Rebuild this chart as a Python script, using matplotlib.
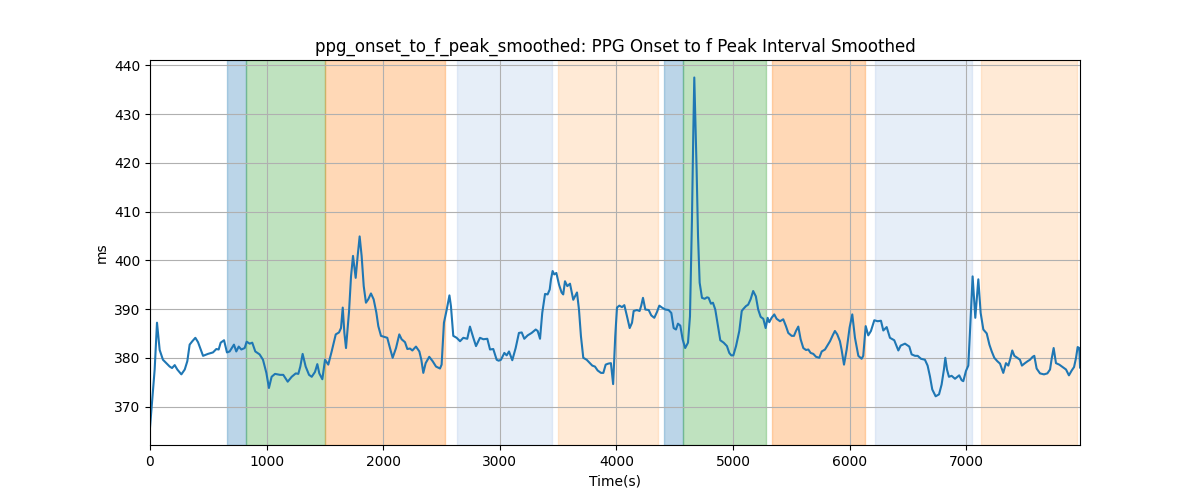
import numpy as np
import matplotlib
matplotlib.use("Agg")
import matplotlib.pyplot as plt

# waktu (s) dan nilai interval (ms)
time_s = [0, 40, 60, 83, 111, 140, 169, 189, 212, 234, 269, 298, 320, 340, 363, 389, 412, 435, 455,
          497, 540, 569, 589, 606, 635, 660, 683, 720, 740, 761, 783, 812, 829, 855, 877, 903, 940,
          969, 998, 1020, 1043, 1072, 1115, 1143, 1181, 1215, 1250, 1272, 1289, 1309, 1335, 1364,
          1387, 1415, 1435, 1452, 1478, 1501, 1529, 1558, 1593, 1621, 1638, 1653, 1667, 1681, 1707,
          1724, 1741, 1764, 1781, 1798, 1815, 1833, 1852, 1872, 1895, 1918, 1941, 1958, 1981, 2009,
          2035, 2058, 2081, 2110, 2138, 2158, 2187, 2207, 2230, 2250, 2281, 2310, 2327, 2344, 2364,
          2395, 2424, 2453, 2487, 2501, 2521, 2545, 2568, 2581, 2601, 2630, 2659, 2687, 2721, 2744,
          2773, 2796, 2830, 2859, 2893, 2916, 2944, 2973, 2990, 3010, 3039, 3059, 3079, 3107, 3136,
          3164, 3188, 3210, 3239, 3273, 3308, 3325, 3345, 3364, 3388, 3410, 3428, 3439, 3453, 3467,
          3485, 3508, 3530, 3544, 3559, 3579, 3602, 3630, 3645, 3662, 3679, 3696, 3716, 3745, 3773,
          3793, 3816, 3839, 3868, 3888, 3908, 3930, 3953, 3972, 3990, 4005, 4025, 4048, 4068, 4091,
          4114, 4134, 4148, 4176, 4199, 4213, 4228, 4248, 4277, 4299, 4325, 4348, 4368, 4391, 4420,
          4448, 4471, 4491, 4511, 4528, 4548, 4568, 4590, 4614, 4631, 4648, 4659, 4668, 4677, 4688,
          4700, 4714, 4734, 4757, 4777, 4791, 4811, 4828, 4848, 4871, 4891, 4920, 4948, 4968, 4985,
          5003, 5026, 5054, 5075, 5088, 5111, 5130, 5151, 5173, 5196, 5216, 5237, 5260, 5280, 5297,
          5311, 5331, 5354, 5374, 5403, 5431, 5454, 5474, 5503, 5523, 5540, 5560, 5580, 5603, 5626,
          5646, 5666, 5689, 5712, 5740, 5761, 5789, 5809, 5832, 5855, 5874, 5894, 5917, 5931, 5952,
          5975, 6000, 6023, 6046, 6075, 6103, 6117, 6138, 6160, 6183, 6212, 6241, 6269, 6289, 6318,
          6346, 6383, 6418, 6438, 6475, 6512, 6532, 6561, 6584, 6612, 6646, 6669, 6689, 6709, 6738,
          6767, 6789, 6809, 6821, 6835, 6852, 6875, 6904, 6940, 6961, 6975, 6998, 7018, 7032, 7055,
          7078, 7104, 7124, 7147, 7176, 7199, 7219, 7241, 7267, 7290, 7318, 7341, 7361, 7376, 7395,
          7413, 7438, 7461, 7478, 7504, 7527, 7547, 7570, 7584, 7604, 7633, 7667, 7696, 7719, 7733,
          7750, 7770, 7798, 7827, 7856, 7881, 7905, 7925, 7942, 7956, 7970, 7976]
interval_ms = [365.7, 377.6, 387.2, 381.6, 379.6, 378.9, 378.2, 377.9, 378.5, 377.6, 376.6, 377.6,
               379.3, 382.7, 383.4, 384.1, 383.2, 381.7, 380.4, 380.8, 381.1, 381.8, 381.7, 383.1,
               383.6, 381.1, 381.3, 382.7, 381.3, 382.3, 381.7, 382.0, 383.3, 382.9, 383.1, 381.3,
               380.7, 379.6, 376.9, 373.8, 376.1, 376.7, 376.5, 376.5, 375.1, 376.1, 376.8, 376.7,
               378.2, 380.8, 378.2, 376.5, 376.1, 377.1, 378.7, 376.8, 375.6, 379.6, 378.6, 381.3,
               384.8, 385.2, 386.1, 390.3, 385.1, 382.0, 389.5, 396.7, 400.9, 396.4, 400.9, 404.9,
               400.9, 394.7, 391.3, 392.0, 393.2, 392.0, 389.3, 386.5, 384.5, 384.3, 384.1, 382.0,
               380.0, 382.0, 384.8, 383.8, 383.2, 381.8, 381.9, 381.5, 382.3, 381.3, 379.6, 376.9,
               378.9, 380.2, 379.3, 378.2, 377.8, 378.6, 387.2, 389.9, 392.8, 390.6, 384.5, 384.1,
               383.4, 384.1, 383.9, 386.4, 384.1, 382.4, 384.1, 383.8, 383.9, 381.7, 381.8, 379.6,
               379.4, 379.6, 381.0, 380.5, 381.3, 379.5, 382.0, 385.1, 385.2, 383.9, 384.6, 385.1,
               385.8, 385.5, 383.9, 389.2, 393.1, 393.0, 394.0, 396.1, 397.8, 397.1, 397.4, 395.0,
               393.4, 393.0, 395.7, 394.7, 395.2, 391.9, 392.6, 393.4, 389.9, 384.4, 380.0, 379.6,
               378.9, 378.4, 378.2, 377.4, 376.9, 376.9, 378.6, 378.8, 378.9, 374.6, 384.4, 390.3,
               390.7, 390.4, 390.8, 388.5, 386.1, 387.2, 389.6, 389.8, 389.6, 390.7, 392.3, 389.9,
               389.8, 388.7, 388.2, 389.4, 390.7, 390.3, 389.9, 389.8, 389.2, 386.1, 385.8, 387.0,
               386.6, 383.8, 382.0, 383.1, 388.5, 408.4, 425.5, 437.5, 428.9, 418.6, 405.0, 395.4,
               392.3, 392.1, 392.4, 392.3, 391.1, 391.3, 389.9, 386.5, 383.6, 383.1, 382.4, 381.0,
               380.5, 380.5, 382.4, 385.5, 389.6, 390.0, 390.6, 390.9, 392.0, 393.7, 392.6, 389.9,
               388.4, 388.0, 386.1, 388.2, 387.3, 388.2, 388.9, 388.0, 387.5, 387.9, 386.5, 385.1,
               384.5, 384.5, 385.5, 386.4, 383.8, 382.0, 381.6, 381.7, 381.0, 380.8, 380.2, 380.0,
               381.3, 381.7, 382.5, 383.4, 384.6, 385.5, 384.8, 383.4, 381.7, 378.6, 381.7, 386.2,
               388.9, 384.1, 380.4, 379.8, 380.4, 386.5, 384.6, 385.5, 387.7, 387.5, 387.6, 385.6,
               386.3, 384.1, 383.6, 381.5, 382.5, 382.9, 382.3, 380.7, 380.4, 380.4, 379.8, 379.6,
               378.4, 376.2, 373.5, 372.1, 372.5, 374.5, 377.6, 380.0, 377.6, 376.1, 376.3, 375.7,
               376.4, 375.4, 375.2, 377.3, 378.4, 385.1, 396.7, 388.2, 396.1, 389.2, 385.8, 385.0,
               382.7, 381.3, 380.0, 379.3, 378.8, 376.9, 378.9, 378.4, 379.6, 381.5, 380.4, 380.0,
               379.6, 378.4, 378.9, 379.3, 379.6, 380.2, 380.4, 377.8, 376.8, 376.6, 376.8, 377.6,
               379.8, 382.0, 378.9, 378.6, 378.1, 377.6, 376.4, 377.4, 378.1, 380.0, 382.2, 382.0,
               378.0]

# segmen yang diarsir: (mulai, selesai, warna)
seg_start = [658, 821, 1504, 2633, 3499, 4408, 4574, 5334, 6218, 7127]
seg_end = [821, 1504, 2527, 3445, 4360, 4574, 5280, 6132, 7047, 7948]
seg_color = ['#1f77b4', '#2ca02c', '#ff7f0e', '#aec7e8', '#ffbb78',
             '#1f77b4', '#2ca02c', '#ff7f0e', '#aec7e8', '#ffbb78']

fig, ax = plt.subplots(figsize=(12, 5))
for s, e, c in zip(seg_start, seg_end, seg_color):
    ax.axvspan(s, e, color=c, alpha=0.3)
ax.plot(time_s, interval_ms, color='#1f77b4', linewidth=1.5)
ax.set_xlim(0, time_s[-1])
ax.set_title('ppg_onset_to_f_peak_smoothed: PPG Onset to f Peak Interval Smoothed')
ax.set_xlabel('Time(s)')
ax.set_ylabel('ms')
ax.grid(True)
plt.savefig('out.png')
